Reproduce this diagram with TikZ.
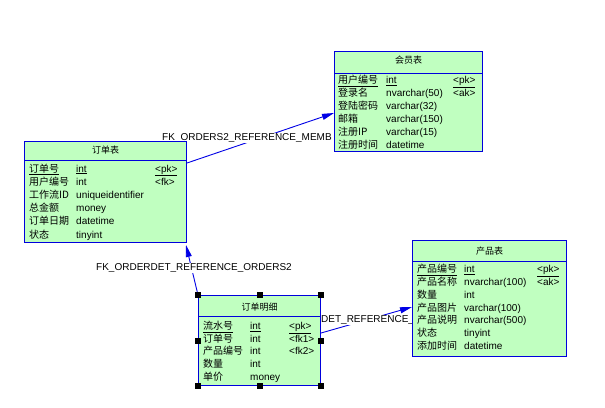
\documentclass[tikz,border=0pt]{standalone}
\usepackage{fontspec}
\setmainfont{Liberation Sans}
\newfontfamily\cjk{Noto Sans CJK SC}
\usetikzlibrary{arrows.meta,calc}
\pgfdeclarelayer{bglayer}
\pgfdeclarelayer{connlayer}
\pgfsetlayers{bglayer,connlayer,main}
\definecolor{tblfill}{RGB}{192,255,192}
\definecolor{tblline}{RGB}{0,0,220}
\definecolor{connline}{RGB}{0,0,230}
\begin{document}
\begin{tikzpicture}[x=1pt,y=-1pt,
  font=\fontsize{10}{12}\selectfont,
  tbl/.style={draw=tblline, fill=tblfill, line width=1pt, inner sep=0pt, anchor=north west},
  divider/.style={draw=tblline, line width=1pt},
  ttl/.style={inner sep=0pt, font=\cjk\fontsize{9}{11}\selectfont},
  cell/.style={inner sep=0pt, anchor=base west},
  cjkcell/.style={cell, font=\cjk\fontsize{10}{12}\selectfont},
  conn/.style={draw=connline, line width=0.9pt, -{Triangle[length=12pt,width=6pt]}},
  lbl/.style={fill=white, inner sep=1pt, text=black},
  handle/.style={fill=black, inner sep=0pt, minimum size=6pt}]
\useasboundingbox (0,0) rectangle (605,407);
\begin{pgfonlayer}{bglayer}
\fill[white] (0,0) rectangle (605,407);
\end{pgfonlayer}

% ---------- 会员表 ----------
\node[tbl, minimum width=148pt, minimum height=100pt] (member) at (334,51) {};
\node[ttl] (member-t) at ($(member.north)+(0,9)$) {会员表};
\draw[divider] ($(member.north west)+(0,22)$) -- ($(member.north east)+(0,22)$);
\foreach \n/\t/\k [count=\i] in {\underline{用户编号}/\underline{int}/\underline{<pk>},
  登录名/nvarchar(50)/<ak>, 登陆密码/varchar(32)/, 邮箱/varchar(150)/,
  注册IP/varchar(15)/, 注册时间/datetime/}{
  \node[cjkcell] (member-n\i) at ($(member.north west)+(4,{32.5+12.9*(\i-1)})$) {\n};
  \node[cell] (member-y\i) at ($(member.north west)+(52,{32.5+12.9*(\i-1)})$) {\t};
  \node[cell] (member-k\i) at ($(member.north west)+(119,{32.5+12.9*(\i-1)})$) {\k};
}

% ---------- 订单表 ----------
\node[tbl, minimum width=162pt, minimum height=101pt] (orders) at (24,141) {};
\node[ttl] (orders-t) at ($(orders.north)+(0,9)$) {订单表};
\draw[divider] ($(orders.north west)+(0,19.5)$) -- ($(orders.north east)+(0,19.5)$);
\foreach \n/\t/\k [count=\i] in {\underline{订单号}/\underline{int}/\underline{<pk>},
  用户编号/int/<fk>, 工作流ID/uniqueidentifier/, 总金额/money/,
  订单日期/datetime/, 状态/tinyint/}{
  \node[cjkcell] (orders-n\i) at ($(orders.north west)+(5,{31+13.2*(\i-1)})$) {\n};
  \node[cell] (orders-y\i) at ($(orders.north west)+(52,{31+13.2*(\i-1)})$) {\t};
  \node[cell] (orders-k\i) at ($(orders.north west)+(131,{31+13.2*(\i-1)})$) {\k};
}

% ---------- 产品表 ----------
\node[tbl, minimum width=154pt, minimum height=116pt] (product) at (412,240) {};
\node[ttl] (product-t) at ($(product.north)+(0,11)$) {产品表};
\draw[divider] ($(product.north west)+(0,21.5)$) -- ($(product.north east)+(0,21.5)$);
\foreach \n/\t/\k [count=\i] in {\underline{产品编号}/\underline{int}/\underline{<pk>},
  产品名称/nvarchar(100)/<ak>, 数量/int/, 产品图片/varchar(100)/,
  产品说明/nvarchar(500)/, 状态/tinyint/, 添加时间/datetime/}{
  \node[cjkcell] (product-n\i) at ($(product.north west)+(5,{32.5+12.85*(\i-1)})$) {\n};
  \node[cell] (product-y\i) at ($(product.north west)+(52,{32.5+12.85*(\i-1)})$) {\t};
  \node[cell] (product-k\i) at ($(product.north west)+(125,{32.5+12.85*(\i-1)})$) {\k};
}

% ---------- 订单明细 ----------
\node[tbl, minimum width=122pt, minimum height=90pt] (detail) at (198,295) {};
\node[ttl] (detail-t) at ($(detail.north)+(0,12)$) {订单明细};
\draw[divider] ($(detail.north west)+(0,21)$) -- ($(detail.north east)+(0,21)$);
\foreach \n/\t/\k [count=\i] in {\underline{流水号}/\underline{int}/\underline{<pk>},
  订单号/int/<fk1>, 产品编号/int/<fk2>, 数量/int/, 单价/money/}{
  \node[cjkcell] (detail-n\i) at ($(detail.north west)+(5,{34.5+12.7*(\i-1)})$) {\n};
  \node[cell] (detail-y\i) at ($(detail.north west)+(52,{34.5+12.7*(\i-1)})$) {\t};
  \node[cell] (detail-k\i) at ($(detail.north west)+(91,{34.5+12.7*(\i-1)})$) {\k};
}

% ---------- connectors ----------
\begin{pgfonlayer}{connlayer}
\draw[conn] ($(orders.north east)+(0,22)$) -- ($(member.north west)+(0,62)$);
\node[lbl, anchor=west] (l1) at (161,138) {FK\_ORDERS2\_REFERENCE\_MEMB};
\draw[conn] (detail.north west) -- node[lbl, xshift=2pt, yshift=2pt] (l2) {FK\_ORDERDET\_REFERENCE\_ORDERS2} ($(orders.south east)+(-1,2)$);
\draw[conn] ($(detail.north east)+(0,38)$) -- ($(product.north west)+(0,67)$);
\node[lbl, anchor=west] (l3) at (320,320) {DET\_REFERENCE\_};
\end{pgfonlayer}

% ---------- selection handles ----------
\foreach \a in {north west,north,north east,west,east,south west,south,south east}{
  \node[handle] (h-\a) at (detail.\a) {};
}
\end{tikzpicture}
\end{document}
